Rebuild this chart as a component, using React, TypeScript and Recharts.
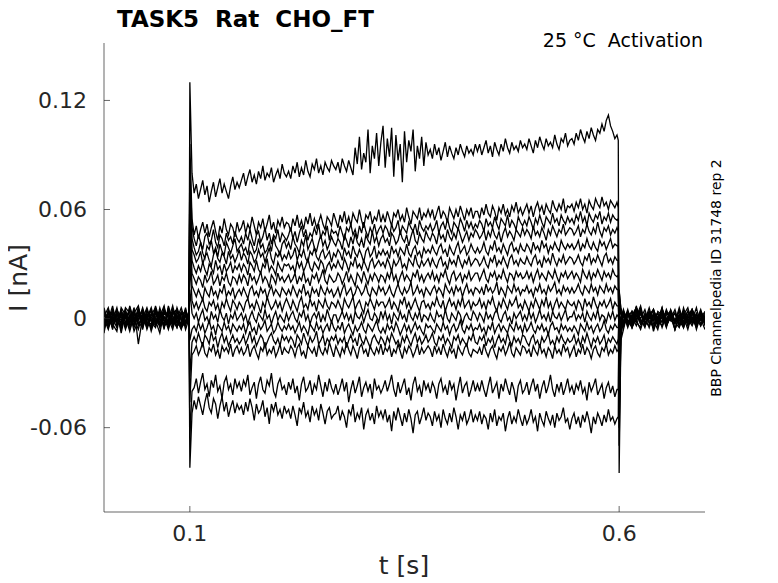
import React from 'react';
import { LineChart, Line, XAxis, YAxis } from 'recharts';

// Sample times in milliseconds
const timeMs = [
  0, 5, 10, 15, 20, 25, 30, 35, 40, 45, 50, 55, 60, 65, 70, 75, 80, 85, 90, 95, 99,
  100, 102.5,
  105, 107.5, 110, 112.5, 115, 117.5, 120, 122.5, 125, 127.5, 130, 132.5, 135, 137.5, 140, 142.5, 145, 147.5, 150, 152.5, 155, 157.5,
  160, 162.5, 165, 167.5, 170, 172.5, 175, 177.5, 180, 182.5, 185, 187.5, 190, 192.5, 195, 197.5, 200, 202.5, 205, 207.5, 210, 212.5,
  215, 217.5, 220, 222.5, 225, 227.5, 230, 232.5, 235, 237.5, 240, 242.5, 245, 247.5, 250, 252.5, 255, 257.5, 260, 262.5, 265, 267.5,
  270, 272.5, 275, 277.5, 280, 282.5, 285, 287.5, 290, 292.5, 295, 297.5, 300, 302.5, 305, 307.5, 310, 312.5, 315, 317.5, 320, 322.5,
  325, 327.5, 330, 332.5, 335, 337.5, 340, 342.5, 345, 347.5, 350, 352.5, 355, 357.5, 360, 362.5, 365, 367.5, 370, 372.5, 375, 377.5,
  380, 382.5, 385, 387.5, 390, 392.5, 395, 397.5, 400, 402.5, 405, 407.5, 410, 412.5, 415, 417.5, 420, 422.5, 425, 427.5, 430, 432.5,
  435, 437.5, 440, 442.5, 445, 447.5, 450, 452.5, 455, 457.5, 460, 462.5, 465, 467.5, 470, 472.5, 475, 477.5, 480, 482.5, 485, 487.5,
  490, 492.5, 495, 497.5, 500, 502.5, 505, 507.5, 510, 512.5, 515, 517.5, 520, 522.5, 525, 527.5, 530, 532.5, 535, 537.5, 540, 542.5,
  545, 547.5, 550, 552.5, 555, 557.5, 560, 562.5, 565, 567.5, 570, 572.5, 575, 577.5, 580, 582.5, 585, 587.5, 590, 592.5, 595, 597.5,
  599,
  600, 602,
  605, 610, 615, 620, 625, 630, 635, 640, 645, 650,
  655, 660, 665, 670, 675, 680, 685, 690, 695, 700,
];

// Currents in pA (thousandths of nA), one array per sweep
const sweep1 = [
  2, -4, 5, -1, 3, -6, 1, 4, -3, 0, 6, -2, -5, 3, 1, -4, 2, 5, -1, -3, 1,
  130, 80,
  69, 74, 66, 71, 76, 68, 73, 64, 70, 75, 67, 72, 77, 69, 74, 70, 66, 73, 78, 71, 75, 72,
  76, 80, 73, 78, 82, 75, 79, 74, 81, 77, 84, 76, 80, 78, 83, 75, 79, 82, 77, 85, 80, 78,
  81, 77, 84, 80, 86, 78, 83, 79, 87, 81, 78, 85, 82, 88, 80, 84, 79, 86, 83, 81, 87, 84,
  82, 86, 80, 88, 84, 81, 87, 83, 79, 94, 85, 100, 82, 91, 86, 104, 80, 95, 88, 102, 84, 97,
  106, 83, 99, 89, 105, 78, 101, 87, 96, 75, 103, 86, 98, 92, 104, 81, 95, 88, 100, 84, 97, 90,
  93, 88, 96, 90, 94, 87, 92, 97, 89, 95, 91, 88, 94, 90, 96, 92, 89, 95, 91, 93, 90, 96,
  92, 96, 90, 94, 98, 91, 95, 89, 97, 93, 90, 96, 92, 99, 94, 91, 97, 93, 95, 92, 98, 94,
  96, 93, 99, 95, 91, 98, 94, 100, 96, 93, 99, 95, 97, 94, 101, 96, 93, 99, 97, 102, 95, 98,
  99, 96, 102, 98, 104, 100, 97, 103, 99, 105, 101, 98, 104, 102, 107, 103, 109, 112, 106, 103, 99, 101,
  98,
  -85, -12,
  -6, 4, -3, 7, -2, 1, -5, 3, -1, 6, -4, 2, -2, 5, -3, 0, 4, -6, 2, -1,
];
const sweep2 = [
  -3, 4, -1, 6, -5, 2, -2, 3, 7, -4, 1, -6, 4, 0, -3, 5, -2, 1, -5, 3, -1,
  96, 55,
  46, 51, 44, 49, 53, 47, 52, 45, 50, 54, 48, 43, 51, 47, 55, 49, 46, 52, 50, 45, 53, 48,
  50, 54, 47, 52, 49, 56, 51, 46, 53, 50, 55, 48, 52, 57, 49, 53, 47, 54, 51, 56, 50, 53,
  52, 48, 55, 51, 57, 50, 54, 49, 56, 52, 58, 51, 55, 50, 53, 57, 52, 49, 56, 54, 51, 58,
  54, 50, 57, 53, 59, 52, 56, 51, 58, 55, 53, 60, 54, 50, 57, 55, 59, 52, 56, 54, 60, 53,
  57, 53, 59, 55, 51, 58, 56, 60, 54, 57, 53, 61, 56, 52, 59, 57, 55, 61, 54, 58, 56, 60,
  56, 60, 54, 58, 62, 55, 59, 57, 53, 61, 58, 55, 60, 56, 62, 58, 54, 60, 57, 61, 55, 59,
  59, 55, 61, 57, 63, 58, 56, 62, 59, 54, 61, 58, 63, 57, 60, 56, 62, 59, 64, 58, 61, 57,
  60, 63, 58, 62, 56, 61, 64, 59, 62, 57, 63, 60, 58, 65, 61, 59, 63, 60, 66, 58, 62, 61,
  63, 59, 64, 61, 66, 60, 63, 58, 65, 62, 60, 66, 63, 61, 67, 62, 64, 60, 65, 63, 61, 64,
  61,
  -70, -10,
  3, -5, 2, 6, -3, 0, 4, -7, 1, -2, 5, -1, 3, -4, 6, -2, 1, -5, 4, 0,
];
const sweep3 = [
  5, -2, 0, -5, 4, 1, -7, 2, -1, 5, -3, 3, -1, -8, 4, 2, -4, 0, 6, -2, 2,
  88, 50,
  44, 40, 46, 42, 38, 45, 47, 41, 43, 49, 42, 39, 46, 44, 40, 47, 43, 45, 41, 48, 44, 42,
  45, 41, 47, 43, 49, 44, 40, 46, 48, 42, 45, 50, 43, 47, 41, 46, 44, 49, 42, 47, 45, 43,
  46, 50, 44, 48, 42, 47, 51, 45, 49, 43, 47, 45, 50, 46, 52, 44, 48, 46, 51, 43, 49, 47,
  48, 45, 51, 47, 43, 50, 48, 52, 46, 49, 44, 51, 47, 53, 48, 45, 50, 47, 52, 46, 49, 51,
  47, 51, 49, 45, 52, 48, 50, 54, 46, 51, 49, 47, 53, 50, 48, 52, 46, 54, 50, 48, 51, 49,
  52, 48, 50, 54, 47, 51, 53, 49, 55, 50, 47, 53, 51, 49, 55, 52, 48, 54, 50, 53, 49, 52,
  50, 54, 52, 48, 55, 51, 53, 50, 56, 52, 49, 55, 53, 51, 57, 50, 54, 52, 49, 56, 53, 51,
  54, 51, 56, 53, 49, 55, 52, 57, 53, 50, 56, 54, 52, 58, 53, 55, 51, 57, 54, 52, 56, 53,
  55, 52, 57, 54, 59, 53, 56, 51, 58, 55, 53, 57, 55, 59, 52, 56, 54, 58, 53, 57, 55, 54,
  55,
  -60, -9,
  -2, 5, -4, 1, 7, -3, 2, -1, -6, 3, 0, 4, -2, -5, 2, 6, -3, 1, -1, 3,
];
const sweep4 = [
  -6, 1, 3, -2, -4, 6, 3, -5, 2, -2, 4, 0, -4, 6, -2, -1, 7, -3, 2, 4, -2,
  80, 44,
  39, 35, 37, 42, 36, 33, 40, 38, 43, 36, 39, 34, 41, 37, 35, 42, 39, 36, 40, 44, 37, 39,
  41, 37, 39, 35, 43, 40, 36, 38, 44, 39, 41, 36, 38, 42, 37, 45, 40, 38, 35, 41, 43, 39,
  42, 38, 45, 41, 39, 36, 43, 40, 46, 38, 41, 44, 39, 37, 42, 46, 40, 43, 38, 41, 45, 42,
  40, 44, 42, 38, 46, 43, 39, 45, 41, 47, 42, 40, 44, 39, 46, 43, 41, 48, 42, 45, 40, 44,
  46, 42, 44, 40, 47, 45, 41, 43, 48, 44, 42, 46, 40, 45, 49, 43, 41, 47, 44, 42, 48, 45,
  43, 47, 45, 41, 48, 44, 46, 42, 49, 45, 43, 47, 44, 50, 46, 42, 45, 48, 43, 47, 45, 49,
  47, 44, 46, 49, 43, 48, 45, 50, 46, 44, 48, 42, 47, 50, 45, 48, 46, 43, 49, 47, 45, 50,
  46, 49, 47, 44, 51, 46, 48, 45, 50, 47, 43, 49, 46, 51, 48, 45, 49, 47, 52, 46, 48, 50,
  49, 46, 48, 51, 45, 49, 47, 52, 48, 46, 50, 47, 53, 48, 45, 50, 48, 51, 46, 49, 47, 50,
  48,
  -50, -8,
  4, -1, -5, 3, 0, 5, -3, 2, -2, 6, -4, 1, 3, -1, -5, 2, 4, -3, 0, -2,
];
const sweep5 = [
  1, 6, -4, 2, -1, -3, 5, 0, -6, 3, -1, 5, -3, 1, 7, -5, 0, -2, 4, -6, 0,
  72, 38,
  35, 31, 33, 37, 30, 34, 36, 32, 29, 35, 38, 33, 31, 36, 34, 30, 37, 33, 35, 31, 34, 38,
  32, 36, 34, 30, 37, 35, 31, 33, 38, 34, 36, 31, 35, 39, 33, 30, 36, 34, 37, 32, 35, 33,
  37, 33, 35, 39, 32, 36, 34, 38, 33, 31, 37, 35, 39, 34, 32, 36, 38, 33, 35, 37, 31, 36,
  34, 38, 36, 32, 39, 35, 37, 33, 40, 36, 34, 38, 35, 31, 37, 39, 34, 36, 40, 33, 37, 35,
  38, 35, 37, 33, 40, 36, 38, 34, 39, 37, 35, 41, 36, 34, 38, 40, 35, 37, 33, 39, 36, 38,
  36, 40, 37, 35, 39, 41, 36, 38, 34, 40, 37, 35, 39, 42, 36, 38, 40, 35, 37, 41, 38, 36,
  39, 36, 38, 42, 37, 35, 40, 38, 43, 37, 39, 36, 41, 38, 35, 40, 42, 37, 39, 36, 41, 38,
  37, 41, 39, 36, 42, 38, 40, 37, 43, 39, 41, 36, 40, 38, 42, 39, 37, 43, 40, 38, 41, 39,
  41, 38, 40, 43, 37, 41, 39, 44, 40, 38, 42, 39, 37, 43, 40, 42, 38, 41, 44, 39, 41, 40,
  40,
  -40, -6,
  -1, 3, -5, 4, 2, -2, 0, 5, -4, 1, -3, 4, -6, 2, 1, -2, 5, -1, 3, -4,
];
const sweep6 = [
  -2, -1, 7, -4, 3, 0, -2, 6, -14, 1, -5, 2, 6, -3, -2, 3, -4, 6, -1, 2, -3,
  64, 32,
  28, 25, 29, 26, 31, 27, 24, 30, 28, 25, 32, 27, 29, 24, 30, 26, 28, 31, 25, 29, 27, 30,
  26, 30, 28, 24, 31, 29, 26, 32, 27, 25, 30, 28, 33, 26, 29, 27, 24, 31, 28, 26, 30, 29,
  30, 27, 29, 25, 32, 28, 31, 26, 29, 33, 28, 26, 31, 29, 27, 32, 30, 25, 29, 31, 27, 30,
  28, 32, 29, 27, 33, 30, 26, 31, 29, 34, 28, 30, 27, 32, 29, 26, 31, 33, 28, 30, 32, 29,
  31, 28, 33, 30, 26, 32, 29, 31, 34, 28, 30, 27, 33, 31, 29, 35, 30, 28, 32, 29, 31, 33,
  29, 33, 30, 28, 32, 34, 29, 31, 27, 33, 30, 32, 29, 35, 31, 28, 32, 30, 34, 29, 31, 33,
  32, 29, 31, 34, 30, 28, 33, 31, 35, 29, 32, 30, 34, 31, 28, 33, 35, 30, 32, 29, 33, 31,
  30, 34, 31, 29, 33, 35, 30, 32, 28, 34, 31, 33, 30, 36, 32, 29, 33, 31, 35, 30, 32, 34,
  33, 30, 32, 35, 31, 29, 34, 32, 36, 30, 33, 31, 35, 32, 29, 34, 36, 31, 33, 30, 34, 32,
  32,
  -30, -4,
  2, -4, 0, 6, -3, 1, -1, -5, 4, 2, -2, 0, 5, -3, 1, -6, 3, -1, 4, -2,
];
const sweep7 = [
  4, -5, 2, 1, -6, 4, -1, -3, 5, -2, 3, -7, 1, 4, -1, -3, 2, -5, 3, 1, -4,
  54, 25,
  22, 19, 23, 21, 17, 24, 20, 22, 26, 19, 21, 24, 18, 23, 21, 25, 20, 18, 23, 22, 19, 24,
  20, 24, 22, 18, 25, 21, 23, 19, 22, 26, 20, 23, 21, 17, 24, 22, 19, 25, 21, 23, 20, 22,
  24, 20, 22, 25, 19, 23, 21, 26, 20, 22, 18, 24, 22, 25, 20, 23, 27, 21, 19, 24, 22, 20,
  21, 25, 23, 19, 22, 26, 20, 24, 21, 18, 25, 23, 20, 26, 22, 19, 24, 21, 25, 23, 20, 24,
  23, 20, 25, 22, 27, 21, 24, 19, 23, 26, 21, 24, 22, 20, 25, 23, 27, 21, 24, 20, 23, 25,
  22, 26, 21, 24, 20, 25, 23, 27, 22, 19, 24, 26, 21, 23, 25, 20, 24, 22, 26, 21, 23, 25,
  25, 21, 24, 27, 22, 20, 25, 23, 26, 21, 24, 22, 27, 23, 20, 25, 24, 21, 26, 23, 25, 22,
  23, 26, 22, 25, 20, 24, 27, 22, 25, 23, 21, 26, 24, 22, 27, 23, 20, 25, 23, 26, 22, 24,
  26, 22, 25, 23, 20, 27, 24, 22, 26, 21, 25, 23, 27, 24, 21, 26, 23, 25, 22, 27, 24, 23,
  24,
  -22, -3,
  -3, 1, 4, -2, -5, 3, 0, 2, -4, 5, -1, 3, -2, 0, 4, -3, -1, 6, -4, 1,
];
const sweep8 = [
  -1, 3, -6, 5, 0, -4, 7, -2, 1, 4, -6, 1, -2, 3, -5, 6, -3, 2, -4, -1, 4,
  44, 18,
  15, 12, 16, 13, 10, 17, 14, 12, 18, 13, 15, 11, 16, 14, 19, 12, 15, 13, 17, 11, 14, 16,
  13, 17, 14, 11, 16, 18, 13, 15, 12, 17, 14, 16, 11, 15, 18, 13, 16, 14, 12, 17, 15, 13,
  16, 13, 18, 15, 12, 16, 14, 19, 13, 15, 11, 17, 14, 16, 12, 18, 15, 13, 17, 14, 16, 12,
  14, 17, 12, 16, 19, 13, 15, 17, 12, 14, 18, 16, 13, 15, 19, 14, 12, 17, 15, 13, 18, 15,
  17, 13, 15, 18, 14, 12, 16, 19, 15, 13, 17, 14, 16, 20, 13, 15, 18, 14, 16, 12, 17, 15,
  13, 16, 18, 14, 17, 15, 12, 19, 16, 14, 17, 13, 18, 15, 17, 12, 16, 19, 14, 16, 13, 17,
  16, 14, 17, 13, 19, 15, 17, 14, 16, 20, 13, 17, 15, 12, 18, 16, 14, 19, 15, 17, 13, 16,
  15, 18, 14, 16, 12, 17, 15, 19, 14, 16, 13, 18, 15, 17, 20, 14, 16, 13, 18, 15, 17, 14,
  17, 14, 16, 19, 15, 13, 18, 16, 14, 19, 15, 17, 13, 18, 16, 14, 19, 15, 17, 14, 18, 16,
  16,
  -15, -2,
  5, -2, 1, -4, 3, -1, 6, -3, 0, 2, -5, 4, -2, 1, 3, -4, 0, -1, 5, -3,
];
const sweep9 = [
  3, 0, -3, -7, 6, 2, -4, 1, -2, -5, 2, 4, -1, -4, 5, 0, -6, 3, 1, -2, 2,
  32, 10,
  6, 9, 5, 8, 11, 6, 4, 9, 7, 10, 5, 8, 3, 9, 6, 11, 7, 4, 10, 8, 5, 9,
  7, 4, 9, 11, 6, 8, 5, 10, 7, 3, 9, 6, 12, 8, 5, 7, 10, 6, 9, 4, 8, 11,
  8, 5, 10, 7, 4, 9, 12, 6, 8, 5, 11, 7, 9, 4, 10, 8, 6, 11, 7, 5, 9, 8,
  6, 10, 7, 4, 11, 8, 6, 9, 12, 5, 8, 10, 6, 3, 9, 7, 11, 8, 5, 10, 7, 9,
  9, 6, 8, 11, 5, 9, 7, 4, 10, 8, 12, 6, 9, 5, 8, 11, 7, 4, 9, 10, 6, 8,
  5, 9, 7, 12, 8, 6, 10, 4, 8, 11, 7, 9, 5, 10, 7, 12, 6, 8, 10, 5, 9, 7,
  8, 11, 6, 9, 5, 10, 8, 12, 7, 4, 9, 6, 11, 8, 5, 10, 7, 9, 12, 6, 8, 5,
  10, 7, 4, 9, 6, 11, 8, 5, 10, 7, 12, 6, 9, 4, 8, 11, 6, 9, 7, 5, 10, 8,
  7, 9, 5, 10, 8, 4, 11, 7, 9, 6, 12, 8, 5, 9, 7, 10, 6, 8, 11, 5, 9, 7,
  7,
  -8, 0,
  -2, 3, -5, 0, 4, -3, 2, 5, -1, -4, 3, 1, -6, 2, 0, 4, -2, 3, -3, 1,
];
const sweep10 = [
  -4, 2, 4, 0, -2, 5, -6, 3, 0, 2, -3, -4, 7, -1, -3, 4, 1, -4, -2, 5, -1,
  16, 3,
  0, 3, -2, 2, 5, -1, 1, -3, 4, 0, 2, -2, 5, 1, -1, 3, -3, 2, 0, 4, -1, 1,
  3, -1, 2, -3, 1, 4, 0, -2, 3, 1, -1, 5, 0, 2, -3, 1, 4, -1, 2, 0, -2, 3,
  -1, 2, 4, 0, -2, 3, 1, 5, -1, 2, -3, 1, 3, 0, 4, -2, 2, -1, 5, 1, -2, 2,
  2, -2, 1, 4, 0, 3, -1, 2, -3, 4, 1, 0, 3, -2, 2, 5, 0, -1, 3, 1, -2, 4,
  0, 4, -1, 2, -3, 3, 1, -1, 4, 0, 2, -2, 5, 1, -1, 3, 0, 4, -2, 2, 1, -1,
  3, 0, -2, 4, 1, 2, -1, 5, 0, -2, 3, 1, -1, 4, 2, -3, 1, 3, 0, -1, 4, 2,
  -1, 3, 1, -2, 4, 0, 2, -1, 3, 5, 0, -2, 2, 4, -1, 1, -3, 3, 0, 2, 4, -1,
  2, -1, 4, 0, 3, -2, 1, 5, 0, 2, -1, 3, -2, 4, 1, 0, 3, -1, 2, 5, -1, 1,
  1, 4, -1, 2, 0, 3, -2, 4, 1, -1, 3, 0, 5, -1, 2, 1, -2, 3, 0, 4, -1, 2,
  1,
  -3, 1,
  4, -3, 2, -1, 5, -2, -4, 1, 3, 0, -3, 5, -1, 2, -4, 1, 3, -2, 0, 4,
];
const sweep11 = [
  6, -3, 1, -2, 5, -5, 2, -4, 3, -1, 0, 6, -3, 2, -4, -2, 5, -1, -6, 3, 0,
  -12, -6,
  -4, -7, -2, -6, -3, -8, -5, -1, -6, -4, -9, -3, -5, -7, -2, -6, -4, -8, -3, -5, -7, -4,
  -6, -3, -8, -4, -2, -7, -5, -9, -3, -6, -4, -1, -7, -5, -3, -8, -6, -2, -5, -7, -4, -6,
  -3, -6, -4, -8, -5, -2, -7, -4, -6, -9, -3, -5, -7, -2, -6, -4, -8, -5, -3, -7, -1, -5,
  -7, -4, -6, -2, -8, -5, -3, -6, -9, -4, -7, -5, -2, -6, -8, -3, -5, -7, -4, -1, -6, -8,
  -5, -8, -3, -6, -4, -7, -2, -5, -9, -6, -3, -7, -4, -8, -5, -2, -6, -4, -7, -9, -3, -5,
  -4, -6, -8, -3, -5, -7, -2, -6, -4, -9, -5, -3, -7, -5, -1, -6, -8, -4, -6, -3, -7, -5,
  -6, -3, -7, -5, -9, -4, -6, -2, -8, -5, -3, -7, -4, -6, -8, -3, -5, -7, -2, -6, -4, -8,
  -3, -7, -5, -2, -6, -8, -4, -6, -3, -7, -5, -9, -4, -2, -6, -5, -8, -3, -6, -4, -7, -5,
  -7, -4, -6, -9, -3, -5, -7, -2, -6, -4, -8, -5, -3, -7, -5, -1, -6, -8, -4, -6, -3, -5,
  -5,
  2, 0,
  -4, 2, -1, 5, -3, 0, 3, -5, 1, -2, 4, -1, -3, 6, -2, 0, -4, 2, 1, -3,
];
const sweep12 = [
  -5, 4, -2, 3, -3, 1, 4, -7, -1, 6, -2, -3, 5, -5, 3, 1, -2, 4, 0, -4, 3,
  -32, -13,
  -10, -13, -8, -12, -15, -9, -11, -14, -7, -12, -10, -16, -11, -8, -13, -10, -15, -12, -9, -13, -11, -14,
  -12, -9, -14, -11, -7, -13, -10, -15, -12, -9, -11, -16, -13, -10, -8, -12, -14, -11, -15, -9, -12, -10,
  -13, -10, -12, -16, -9, -11, -14, -8, -12, -15, -10, -13, -11, -7, -14, -12, -9, -15, -11, -13, -10, -12,
  -9, -14, -11, -13, -10, -16, -12, -9, -13, -11, -15, -8, -12, -14, -10, -13, -16, -11, -9, -12, -14, -10,
  -12, -15, -10, -13, -8, -11, -14, -12, -16, -10, -13, -9, -12, -15, -11, -8, -13, -10, -14, -12, -9, -13,
  -11, -8, -13, -15, -10, -12, -9, -14, -11, -13, -16, -10, -12, -9, -14, -11, -13, -15, -10, -12, -8, -13,
  -14, -10, -12, -9, -15, -11, -13, -10, -16, -12, -9, -13, -11, -14, -8, -12, -15, -10, -13, -11, -14, -9,
  -10, -13, -15, -11, -9, -14, -12, -16, -10, -13, -11, -8, -14, -12, -15, -10, -13, -9, -12, -14, -11, -13,
  -12, -9, -14, -11, -15, -10, -13, -8, -12, -16, -11, -13, -10, -14, -12, -9, -15, -11, -13, -10, -12, -14,
  -11,
  8, 2,
  3, -1, -4, 2, 0, -5, 4, 1, -3, 5, -2, 0, 3, -4, -1, 2, 5, -3, 0, -1,
];
const sweep13 = [
  0, -6, 3, -3, 2, -2, 6, -1, 4, -6, 5, -1, -2, 4, -6, 7, -1, -5, 3, 1, -2,
  -46, -20,
  -18, -15, -20, -17, -13, -19, -21, -16, -18, -14, -20, -17, -22, -15, -18, -16, -19, -14, -21, -17, -15, -19,
  -16, -20, -18, -14, -21, -17, -15, -19, -22, -16, -18, -13, -20, -17, -19, -15, -21, -18, -14, -20, -16, -18,
  -19, -15, -17, -21, -16, -14, -20, -18, -22, -15, -17, -19, -16, -21, -14, -18, -20, -16, -19, -13, -17, -21,
  -15, -18, -21, -16, -19, -13, -17, -20, -15, -18, -22, -16, -14, -19, -17, -21, -15, -18, -20, -16, -19, -14,
  -20, -16, -18, -15, -21, -17, -19, -14, -18, -22, -16, -19, -15, -17, -21, -18, -14, -20, -16, -19, -17, -15,
  -17, -21, -15, -19, -16, -20, -14, -18, -21, -16, -19, -17, -22, -15, -18, -20, -16, -14, -19, -21, -17, -18,
  -19, -16, -20, -14, -18, -21, -17, -15, -19, -22, -16, -18, -15, -20, -17, -13, -19, -21, -16, -18, -20, -15,
  -16, -19, -17, -21, -15, -18, -20, -14, -19, -17, -21, -16, -18, -22, -15, -19, -17, -20, -14, -18, -16, -21,
  -18, -15, -21, -17, -19, -14, -20, -16, -18, -22, -17, -15, -19, -21, -16, -18, -14, -20, -17, -19, -15, -18,
  -17,
  12, 4,
  -3, 4, 0, -2, 6, -4, 1, -1, 3, -5, 2, 4, -2, -1, 3, -3, 5, 0, -4, 2,
];
const sweep14 = [
  2, 1, -5, 4, -8, 3, -3, 5, -4, 3, -4, 2, 0, -2, 6, -3, 4, -1, -3, 6, -4,
  -66, -40,
  -38, -33, -41, -35, -30, -39, -36, -43, -34, -38, -31, -40, -37, -44, -35, -32, -39, -36, -42, -33, -38, -35,
  -40, -34, -37, -31, -42, -38, -35, -44, -36, -32, -39, -41, -34, -37, -30, -40, -43, -36, -33, -39, -37, -42,
  -35, -39, -33, -41, -37, -45, -36, -32, -40, -38, -34, -42, -36, -39, -31, -37, -43, -35, -40, -33, -38, -41,
  -36, -42, -38, -33, -40, -35, -46, -39, -34, -41, -37, -32, -43, -38, -35, -40, -36, -44, -33, -39, -37, -41,
  -38, -34, -40, -36, -31, -39, -43, -35, -41, -37, -33, -42, -38, -45, -36, -32, -40, -37, -43, -34, -39, -36,
  -41, -35, -38, -44, -36, -33, -40, -37, -42, -34, -39, -36, -45, -38, -32, -41, -37, -35, -43, -39, -34, -40,
  -36, -40, -34, -39, -43, -37, -32, -41, -38, -35, -44, -36, -40, -33, -38, -42, -35, -39, -46, -37, -34, -41,
  -39, -35, -42, -37, -33, -40, -36, -44, -38, -34, -41, -37, -31, -39, -43, -36, -40, -35, -42, -38, -33, -40,
  -37, -42, -36, -39, -34, -41, -38, -45, -35, -40, -37, -33, -42, -39, -36, -44, -38, -35, -41, -37, -43, -39,
  -39,
  15, 6,
  1, -3, 4, -1, -6, 2, 0, 5, -2, 3, -4, 1, -1, 4, -5, 2, 3, -2, 0, -6,
];
const sweep15 = [
  -8, 5, -1, 2, 1, -4, 0, -2, 6, -3, 1, -5, 3, -4, 1, -6, 3, 5, -5, -2, 2,
  -82, -52,
  -45, -50, -43, -48, -53, -46, -41, -49, -52, -44, -47, -55, -48, -43, -51, -46, -54, -49, -45, -52, -47, -50,
  -48, -53, -46, -51, -44, -49, -56, -47, -52, -50, -45, -54, -49, -58, -47, -51, -46, -53, -50, -55, -48, -52,
  -50, -55, -48, -53, -59, -49, -52, -46, -54, -51, -57, -48, -53, -50, -56, -47, -52, -58, -51, -49, -55, -53,
  -52, -48, -56, -51, -54, -60, -50, -53, -47, -57, -52, -55, -49, -61, -53, -50, -56, -52, -58, -48, -54, -51,
  -55, -50, -57, -53, -62, -51, -56, -49, -54, -59, -52, -57, -50, -55, -63, -53, -51, -58, -54, -49, -56, -52,
  -54, -59, -51, -56, -53, -60, -50, -55, -58, -52, -57, -49, -54, -61, -53, -56, -51, -58, -55, -50, -57, -53,
  -56, -51, -58, -53, -55, -61, -52, -57, -50, -59, -54, -56, -52, -62, -55, -51, -58, -54, -57, -50, -55, -59,
  -53, -58, -55, -50, -57, -54, -62, -52, -56, -59, -51, -55, -58, -53, -60, -52, -56, -54, -49, -57, -55, -61,
  -55, -52, -58, -54, -60, -53, -57, -51, -56, -63, -54, -58, -52, -55, -59, -53, -57, -50, -56, -54, -58, -55,
  -54,
  16, 5,
  -5, 3, -2, 6, -1, -4, 2, 0, -3, 5, -1, 3, -6, 1, -2, 4, 0, -4, 2, 1,
];

const sweeps = [
  sweep1, sweep2, sweep3, sweep4, sweep5, sweep6, sweep7, sweep8,
  sweep9, sweep10, sweep11, sweep12, sweep13, sweep14, sweep15,
];

const xTicks = [0.1, 0.6];
const xTickLabels = ['0.1', '0.6'];
const yTicks = [-0.06, 0, 0.06, 0.12];
const yTickLabels = ['-0.06', '0', '0.06', '0.12'];
const xDomain = [0, 0.7];
const yDomain = [-0.1064, 0.1516];

const titleText = 'TASK5  Rat  CHO_FT';
const conditionText = '25 \u00B0C  Activation';
const sourceText = 'BBP Channelpedia ID 31748 rep 2';
const xLabelText = 't [s]';
const yLabelText = 'I [nA]';

const data = timeMs.map((ms, i) => {
  const row: Record<string, number | null> = { t: ms / 1000 };
  sweeps.forEach((s, k) => {
    row['s' + k] = typeof s[i] === 'number' ? s[i] / 1000 : null;
  });
  return row;
});

const FONT = 'DejaVu Sans, Liberation Sans, sans-serif';
const AXIS_COLOR = '#262626';
const Y_GAP = 17;
const X_GAP = 13;
const TICK_LEN = 6;

const YTick = (props: any) => {
  const { x, y, payload } = props;
  const idx = yTicks.findIndex((v) => Math.abs(v - payload.value) < 1e-9);
  const label = idx >= 0 ? yTickLabels[idx] : String(payload.value);
  return (
    <g>
      <line x1={x + Y_GAP} x2={x + Y_GAP + TICK_LEN} y1={y} y2={y} stroke={AXIS_COLOR} strokeWidth={0.7} />
      <text x={x} y={y} dy="0.355em" textAnchor="end" fontFamily={FONT} fontSize={22} fill={AXIS_COLOR}>
        {label}
      </text>
    </g>
  );
};

const XTick = (props: any) => {
  const { x, y, payload } = props;
  const idx = xTicks.findIndex((v) => Math.abs(v - payload.value) < 1e-9);
  const label = idx >= 0 ? xTickLabels[idx] : String(payload.value);
  return (
    <g>
      <line x1={x} x2={x} y1={y - X_GAP} y2={y - X_GAP - TICK_LEN} stroke={AXIS_COLOR} strokeWidth={0.7} />
      <text x={x} y={y} dy="0.71em" textAnchor="middle" fontFamily={FONT} fontSize={22} fill={AXIS_COLOR}>
        {label}
      </text>
    </g>
  );
};

export default function App() {
  const W = 770;
  const H = 575;
  return (
    <div style={{ position: 'relative', width: W, height: H, background: '#fff' }}>
      <LineChart width={W} height={H} data={data} margin={{ top: 35, right: 73, bottom: 31, left: 0 }}>
        <XAxis
          dataKey="t"
          type="number"
          domain={xDomain}
          ticks={xTicks}
          interval={0}
          allowDataOverflow
          height={40}
          tickSize={0}
          tickMargin={X_GAP}
          tickLine={false}
          axisLine={{ stroke: AXIS_COLOR, strokeWidth: 0.7 }}
          tick={<XTick />}
        />
        <YAxis
          type="number"
          domain={yDomain}
          ticks={yTicks}
          interval={0}
          allowDataOverflow
          width={96}
          tickSize={0}
          tickMargin={Y_GAP}
          tickLine={false}
          axisLine={{ stroke: AXIS_COLOR, strokeWidth: 0.7 }}
          tick={<YTick />}
        />
        {sweeps.map((_, k) => (
          <Line
            key={k}
            dataKey={'s' + k}
            type="linear"
            stroke="#000000"
            strokeWidth={1.3}
            dot={false}
            activeDot={false}
            connectNulls
            isAnimationActive={false}
          />
        ))}
      </LineChart>
      <svg
        width={778}
        height={583}
        style={{ position: 'absolute', left: -8, top: -8, pointerEvents: 'none' }}
        fontFamily={FONT}
      >
        <text x={117} y={27} fontSize={23} fontWeight="bold" fill="#000" style={{ whiteSpace: 'pre' }}>
          {titleText}
        </text>
        <text x={703} y={47} fontSize={19} textAnchor="end" fill="#000" style={{ whiteSpace: 'pre' }}>
          {conditionText}
        </text>
        <text transform="translate(721,278) rotate(-90)" fontSize={14} textAnchor="middle" fill="#000">
          {sourceText}
        </text>
        <text transform="translate(27,278) rotate(-90)" fontSize={25} textAnchor="middle" fill={AXIS_COLOR}>
          {yLabelText}
        </text>
        <text x={404} y={574} fontSize={25} textAnchor="middle" fill={AXIS_COLOR}>
          {xLabelText}
        </text>
      </svg>
    </div>
  );
}
